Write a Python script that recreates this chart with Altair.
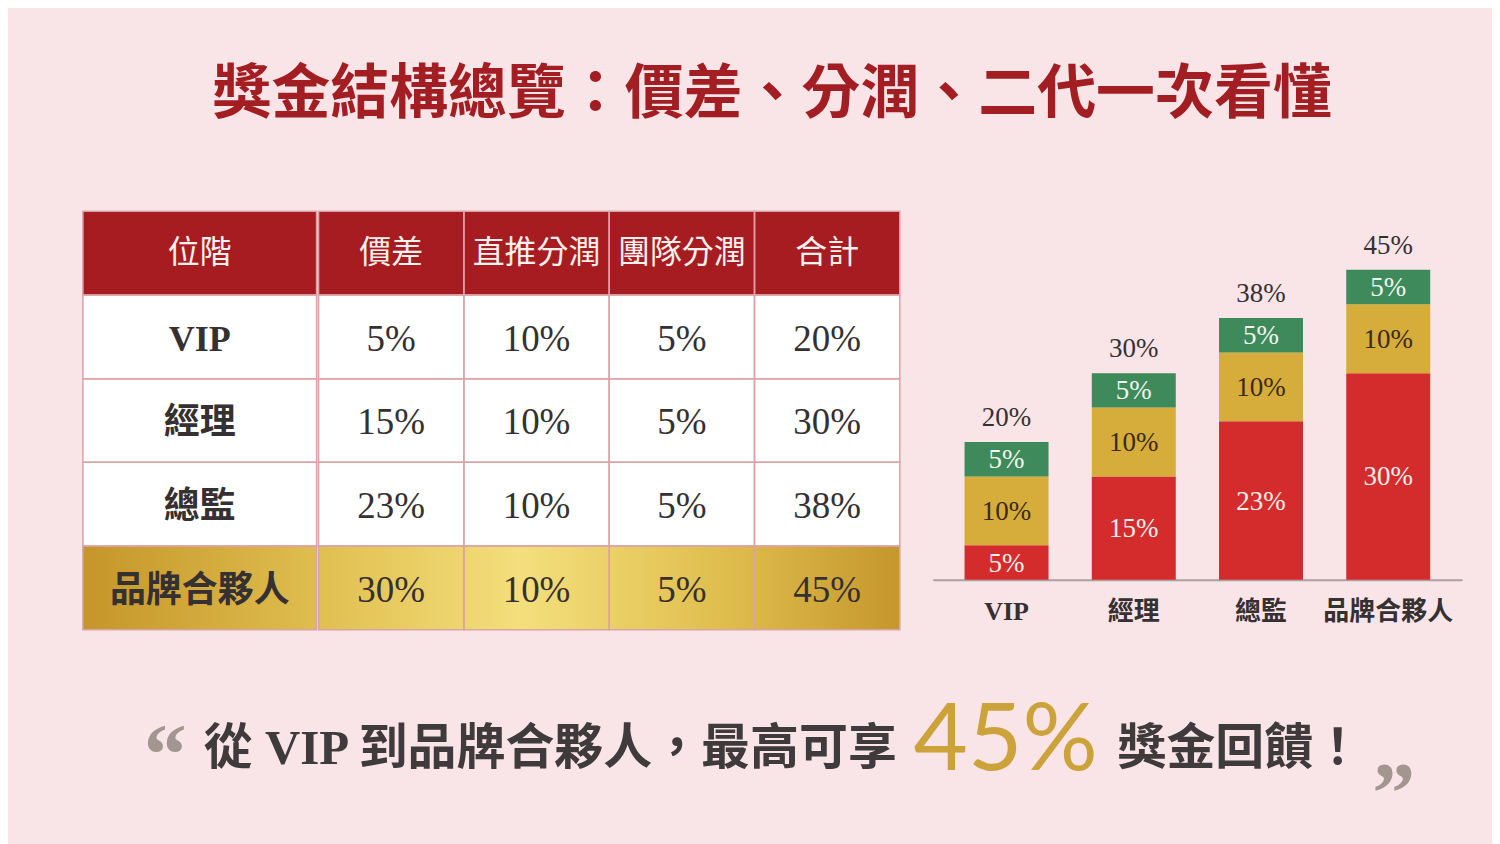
import altair as alt
import pandas as pd

title_text = "獎金結構總覽：價差、分潤、二代一次看懂"
header = ["位階", "價差", "直推分潤", "團隊分潤", "合計"]
levels = ["VIP", "經理", "總監", "品牌合夥人"]
price_diff = [5, 15, 23, 30]
direct_share = [10, 10, 10, 10]
team_share = [5, 5, 5, 5]
totals = [20, 30, 38, 45]
quote_lead = "從 VIP 到品牌合夥人，最高可享"
quote_tail = "獎金回饋！"

BG = "#f9e5e7"
RED_HEAD = "#a61c21"
LINE = "#dba3a7"
TXT = "#353031"
CJK = "Noto Sans CJK TC"
SERIF = "Liberation Serif, Noto Sans CJK TC"
parts = header[1:4]
part_colors = ["#d42c2d", "#d6ac3b", "#3e8a5b"]
part_text = ["#fdf0ee", "#3a2a16", "#f1f6ee"]

# ---- table, long form
rows = [{"row": "位階", "col": h, "text": h} for h in header]
for i, lv in enumerate(levels):
    vals = [lv, f"{price_diff[i]}%", f"{direct_share[i]}%", f"{team_share[i]}%", f"{totals[i]}%"]
    rows += [{"row": lv, "col": h, "text": v} for h, v in zip(header, vals)]
table = pd.DataFrame(rows)
row_order = ["位階"] + levels
gold_row = levels[-1]


def gradient(stops):
    return alt.LinearGradient(
        gradient="linear", x1=0, x2=1, y1=0, y2=0,
        stops=[alt.GradientStop(offset=o, color=c) for o, c in stops])


def table_part(cols, width, gold_stops, body_font, body_size, body_weight):
    base = alt.Chart(table).transform_filter(
        alt.FieldOneOfPredicate(field="col", oneOf=cols))
    y = alt.Y("row:N", sort=row_order, axis=None,
              scale=alt.Scale(paddingInner=0, paddingOuter=0))
    x = alt.X("col:N", sort=cols, axis=None,
              scale=alt.Scale(paddingInner=0, paddingOuter=0))

    fills = base.transform_filter(alt.datum.row != gold_row).mark_rect().encode(
        x=x, y=y,
        color=alt.condition(alt.datum.row == "位階", alt.value(RED_HEAD), alt.value("#ffffff")))
    gold = base.transform_filter(alt.datum.row == gold_row).mark_rect(
        color=gradient(gold_stops)).encode(y=y)
    borders = base.mark_rect(filled=False, color=LINE, strokeWidth=1.5).encode(x=x, y=y)
    head = base.transform_filter(alt.datum.row == "位階").mark_text(
        font=CJK, fontSize=32, color="#fdf1ee").encode(x=x, y=y, text="text:N")
    body = base.transform_filter(alt.datum.row != "位階").mark_text(
        font=body_font, fontSize=body_size, fontWeight=body_weight, color=TXT,
        dy=3).encode(x=x, y=y, text="text:N")
    return (fills + gold + borders + head + body).properties(width=width, height=419)


label_col = table_part(header[:1], 234, [(0, "#c5962a"), (1, "#dfbd4e")],
                       SERIF, 36, "bold")
value_cols = table_part(header[1:], 582,
                        [(0, "#e0bf50"), (0.35, "#f4df7c"), (0.7, "#dfbd4d"), (1, "#c5972d")],
                        SERIF, 37, "normal")
table_chart = alt.hconcat(label_col, value_cols, spacing=0)

# ---- stacked bars
bar_rows = []
for i, lv in enumerate(levels):
    for k, (p, v) in enumerate(zip(parts, [price_diff[i], direct_share[i], team_share[i]])):
        bar_rows.append({"level": lv, "part": p, "value": v, "order": k})
bars_df = pd.DataFrame(bar_rows)
totals_df = pd.DataFrame({"level": levels, "total": totals})

xb = alt.X("level:N", sort=levels, title=None,
           scale=alt.Scale(paddingInner=0.34, paddingOuter=0.25),
           axis=alt.Axis(labelAngle=0, labelFont=SERIF, labelFontSize=26,
                         labelFontWeight="bold", labelColor=TXT, ticks=False,
                         domainColor="#aaa0a2", domainWidth=2, labelPadding=19))
ysc = alt.Scale(domain=[0, 53.5])

bars = alt.Chart(bars_df).mark_bar().encode(
    x=xb,
    y=alt.Y("value:Q", stack="zero", scale=ysc, axis=None),
    color=alt.Color("part:N", scale=alt.Scale(domain=parts, range=part_colors), legend=None),
    order=alt.Order("order:Q"),
)
seg_labels = alt.Chart(bars_df).transform_stack(
    stack="value", groupby=["level"], sort=[alt.SortField("order")], as_=["y0", "y1"]
).transform_calculate(
    mid="(datum.y0 + datum.y1) / 2", label="datum.value + '%'"
).mark_text(font=SERIF, fontSize=27, dy=1).encode(
    x=alt.X("level:N", sort=levels),
    y=alt.Y("mid:Q", scale=ysc),
    text="label:N",
    color=alt.Color("part:N", scale=alt.Scale(domain=parts, range=part_text), legend=None),
)
total_labels = alt.Chart(totals_df).transform_calculate(
    label="datum.total + '%'"
).mark_text(font=SERIF, fontSize=27, baseline="bottom", dy=-10, color=TXT).encode(
    x=alt.X("level:N", sort=levels),
    y=alt.Y("total:Q", scale=ysc),
    text="label:N",
)
bar_chart = alt.layer(bars, seg_labels, total_labels).resolve_scale(
    color="independent").properties(width=530, height=369)

top_row = alt.hconcat(table_chart, bar_chart, spacing=32)

# ---- quote line
one = pd.DataFrame({"k": [0]})
q_left = alt.Chart(one).mark_text(
    text="“", font="Liberation Serif", fontSize=86, fontWeight="bold", color="#a39690",
    align="left", baseline="alphabetic").encode(x=alt.value(61), y=alt.value(133))
q_lead = alt.Chart(one).mark_text(
    text=quote_lead, font=SERIF, fontSize=49, fontWeight="bold", color="#3f3a3c",
    align="right", baseline="middle").encode(x=alt.value(815), y=alt.value(98))
q_big = alt.Chart(pd.DataFrame({"v": [max(totals)]})).transform_calculate(
    label="datum.v + '%'").mark_text(
    font="Lato", fontSize=94, color="#cca23b", align="center", baseline="middle"
).encode(x=alt.value(924), y=alt.value(91), text="label:N")
q_tail = alt.Chart(one).mark_text(
    text=quote_tail, font=SERIF, fontSize=49, fontWeight="bold", color="#3f3a3c",
    align="left", baseline="middle").encode(x=alt.value(1036), y=alt.value(98))
q_right = alt.Chart(one).mark_text(
    text="”", font="Liberation Serif", fontSize=86, fontWeight="bold", color="#a39690",
    align="left", baseline="alphabetic").encode(x=alt.value(1291), y=alt.value(172))
quote = alt.layer(q_left, q_lead, q_big, q_tail, q_right).properties(width=1378, height=178)

chart = alt.vconcat(top_row, quote, spacing=20).properties(
    title=alt.TitleParams(title_text, font=CJK, fontSize=59, fontWeight="bold",
                          color="#a31e23", anchor="middle", offset=86),
    padding={"left": 74, "top": 57, "right": 30, "bottom": 5},
    background=BG,
).configure_view(strokeWidth=0)

chart.save("out.html", embed_options={"renderer": "svg", "actions": False})
